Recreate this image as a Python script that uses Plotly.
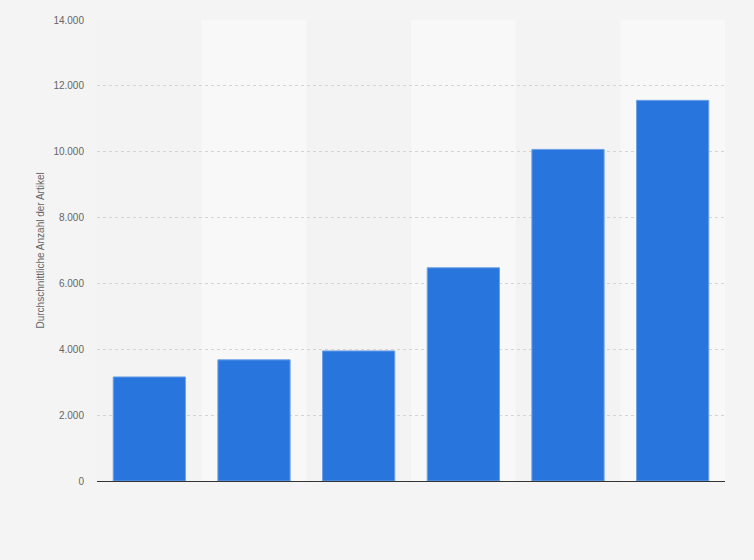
import plotly.graph_objects as go

categories = ["1", "2", "3", "4", "5", "6"]
values = [3160, 3680, 3950, 6475, 10070, 11560]
y_ticks = [0, 2000, 4000, 6000, 8000, 10000, 12000, 14000]
y_title = "Durchschnittliche Anzahl der Artikel"

W, H = 754, 560
ml, mr, mt, mb = 97, 29, 20, 79

fig = go.Figure()
fig.add_trace(go.Bar(
    x=categories, y=values,
    marker=dict(color="#2876dd", line=dict(color="#6ea0e6", width=1)),
    width=0.69,
    hoverinfo="y",
))

shapes = []
for i in range(len(categories)):
    if i % 2 == 1:
        shapes.append(dict(type="rect", xref="x", yref="paper",
                           x0=i - 0.5, x1=i + 0.5, y0=0, y1=1,
                           fillcolor="#f8f8f8", line=dict(width=0), layer="below"))

fig.update_layout(
    width=W, height=H,
    margin=dict(l=ml, r=mr, t=mt, b=mb),
    paper_bgcolor="#f4f4f4",
    plot_bgcolor="#f3f3f3",
    separators=",.",
    font=dict(family="Liberation Sans, Arial, sans-serif", size=10, color="#666666"),
    showlegend=False,
    shapes=shapes,
    bargap=0.31,
    xaxis=dict(showticklabels=False, showgrid=False, showline=True,
               linecolor="#333333", linewidth=1, ticks="", zeroline=False,
               range=[-0.5, len(categories) - 0.5]),
    yaxis=dict(range=[0, 14000], tickvals=y_ticks, tickformat=",d",
               showgrid=True, gridcolor="#d4d4d4", griddash="dot", gridwidth=1,
               zeroline=False, showline=False, ticks="",
               ticklabelstandoff=12,
               tickfont=dict(size=10, color="#666666")),
    annotations=[dict(text=y_title, xref="paper", yref="paper",
                      x=(40 - ml) / (W - ml - mr), y=0.5, textangle=-90,
                      showarrow=False, xanchor="center", yanchor="middle",
                      font=dict(size=10, color="#666666"))],
)

fig.write_html(
    "out.html",
    config={"displayModeBar": False},
    post_script="document.body.style.margin='0';document.body.style.background='#f4f4f4';document.body.style.overflow='hidden';",
)
